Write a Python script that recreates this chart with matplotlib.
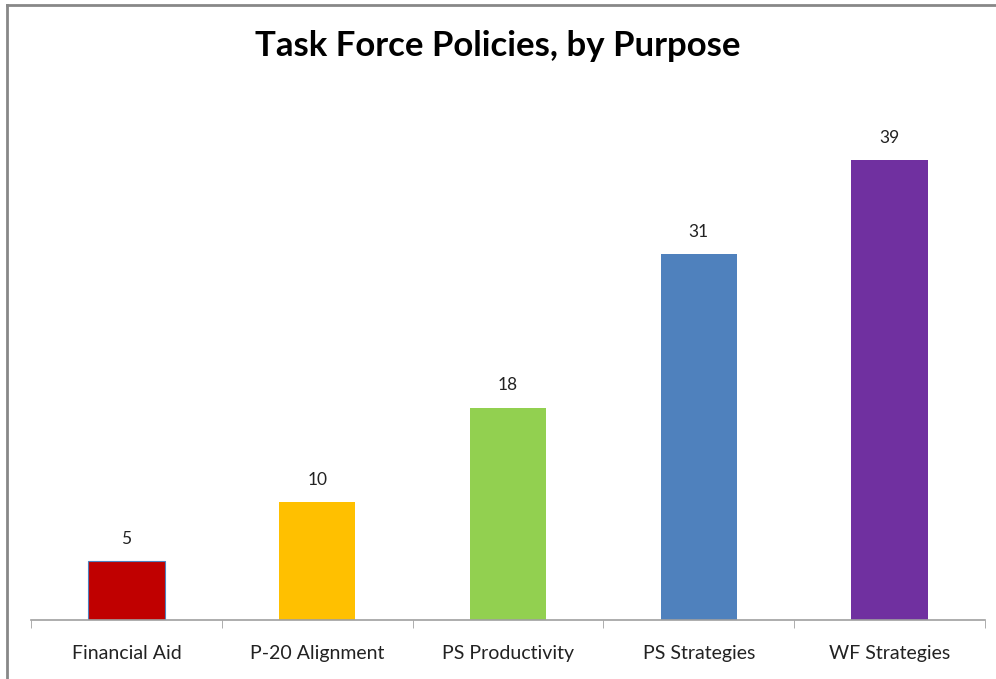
import matplotlib.pyplot as plt
from matplotlib.lines import Line2D

# --- data ---
categories = ["Financial Aid", "P-20 Alignment", "PS Productivity", "PS Strategies", "WF Strategies"]
values = [5, 10, 18, 31, 39]
colors = ["#C00000", "#FFC000", "#92D050", "#4F81BD", "#7030A0"]

plt.rcParams['font.family'] = ['Lato', 'DejaVu Sans']

fig = plt.figure(figsize=(9.96, 6.79), dpi=100)
ax = fig.add_axes([31 / 996, 59 / 679, 954 / 996, 531 / 679])

x = range(len(categories))
bars = ax.bar(x, values, width=0.4, color=colors)
bars[0].set_edgecolor("#4F81BD")
bars[0].set_linewidth(0.8)

for xi, v in zip(x, values):
    ax.text(xi, v + 1.2, str(v), ha="center", va="bottom", fontsize=12.5, color="#222222")

ax.set_xlim(-0.5, len(categories) - 0.5)
ax.set_ylim(0, 45)
ax.set_yticks([])
ax.set_xticks(x)
ax.set_xticklabels(categories, fontsize=14, color="#222222")
ax.tick_params(axis="x", length=0, pad=18)
# category separator ticks
ax.set_xticks([i - 0.5 for i in range(len(categories) + 1)], minor=True)
ax.tick_params(axis="x", which="minor", length=6, color="#A0A0A0", direction="out")

for s in ["top", "right", "left"]:
    ax.spines[s].set_visible(False)
ax.spines["bottom"].set_color("#A0A0A0")
ax.spines["bottom"].set_linewidth(1.2)

fig.text(0.5, 1 - 46 / 679, "Task Force Policies, by Purpose", ha="center", va="center",
         fontsize=25, fontweight="bold", color="black")

# outer border (top and left only visible)
fig.add_artist(Line2D([7 / 996, 7 / 996], [0, 1 - 5 / 679], transform=fig.transFigure,
                      color="#888888", linewidth=2))
fig.add_artist(Line2D([7 / 996, 1], [1 - 5 / 679, 1 - 5 / 679], transform=fig.transFigure,
                      color="#888888", linewidth=2))

fig.savefig("out.png", dpi=100)
